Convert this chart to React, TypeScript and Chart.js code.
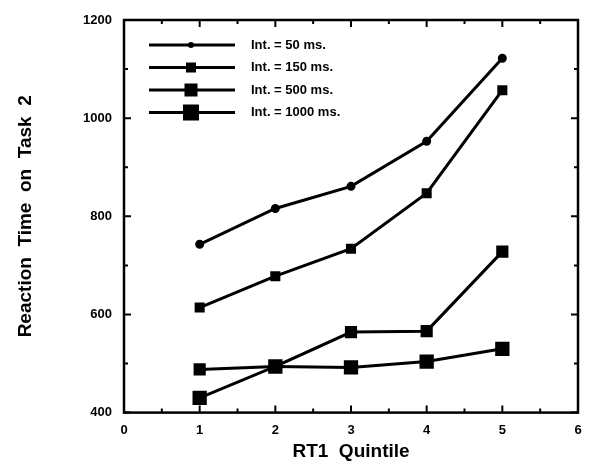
import { useEffect, useRef } from 'react'
import Chart from 'chart.js/auto'

const quintiles = [1, 2, 3, 4, 5]
const int50 = [743, 816, 861, 953, 1122]
const int150 = [614, 678, 734, 847, 1057]
const int500 = [488, 494, 564, 566, 728]
const int1000 = [430, 494, 492, 504, 530]
const seriesLabels = ['Int. = 50 ms.', 'Int. = 150 ms.', 'Int. = 500 ms.', 'Int. = 1000 ms.']
const markerStyles = ['circle', 'rect', 'rect', 'rect']
const markerSizes = [3, 5, 6.5, 8]

const FONT = '"Liberation Sans", Arial, sans-serif'

const frameTicks = {
  id: 'frameTicks',
  afterDraw(chart: Chart) {
    const { ctx, chartArea: a } = chart
    const x = chart.scales.x
    const y = chart.scales.y
    ctx.save()
    ctx.strokeStyle = '#000'
    ctx.lineWidth = 2.5
    ctx.strokeRect(a.left, a.top, a.right - a.left, a.bottom - a.top)
    ctx.lineWidth = 2
    for (let v = 0; v <= 6; v += 0.5) {
      const px = x.getPixelForValue(v)
      const len = v % 1 === 0 ? 7 : 4
      ctx.beginPath()
      ctx.moveTo(px, a.bottom); ctx.lineTo(px, a.bottom - len)
      ctx.moveTo(px, a.top); ctx.lineTo(px, a.top + len)
      ctx.stroke()
    }
    for (let v = 400; v <= 1200; v += 100) {
      const py = y.getPixelForValue(v)
      const len = v % 200 === 0 ? 7 : 4
      ctx.beginPath()
      ctx.moveTo(a.left, py); ctx.lineTo(a.left + len, py)
      ctx.moveTo(a.right, py); ctx.lineTo(a.right - len, py)
      ctx.stroke()
    }
    // legend
    ctx.font = `bold 13px ${FONT}`
    ctx.textBaseline = 'middle'
    seriesLabels.forEach((label, i) => {
      const ly = a.top + 25 + i * 22.5
      const lx = a.left + 25
      ctx.lineWidth = 3
      ctx.beginPath(); ctx.moveTo(lx, ly); ctx.lineTo(lx + 86, ly); ctx.stroke()
      const s = markerSizes[i]
      ctx.fillStyle = '#000'
      if (markerStyles[i] === 'circle') {
        ctx.beginPath(); ctx.arc(lx + 42, ly, s, 0, Math.PI * 2); ctx.fill()
      } else {
        ctx.fillRect(lx + 42 - s, ly - s, 2 * s, 2 * s)
      }
      ctx.fillText(label, lx + 102, ly)
    })
    ctx.restore()
  },
}

export default function App() {
  const canvasRef = useRef<HTMLCanvasElement>(null)

  useEffect(() => {
    if (!canvasRef.current) return
    const all = [int50, int150, int500, int1000]
    const chart = new Chart(canvasRef.current, {
      type: 'scatter',
      data: {
        datasets: all.map((vals, i) => ({
          label: seriesLabels[i],
          data: quintiles.map((q, j) => ({ x: q, y: vals[j] })),
          showLine: true,
          borderColor: '#000',
          backgroundColor: '#000',
          borderWidth: 3,
          pointStyle: markerStyles[i] as any,
          pointRadius: markerSizes[i],
          pointHoverRadius: markerSizes[i],
          tension: 0,
        })),
      },
      options: {
        responsive: false,
        animation: false,
        layout: { padding: { top: 20, right: 6, left: 10, bottom: 9 } },
        plugins: { legend: { display: false }, tooltip: { enabled: false } },
        scales: {
          x: {
            type: 'linear', min: 0, max: 6,
            grid: { display: false },
            border: { display: false },
            ticks: { stepSize: 1, color: '#000', font: { family: FONT, weight: 'bold', size: 13 }, padding: 2 },
            title: { display: true, text: 'RT1  Quintile', color: '#000', font: { family: FONT, weight: 'bold', size: 19 }, padding: { top: 0, bottom: 0 } },
          },
          y: {
            min: 400, max: 1200,
            grid: { display: false },
            border: { display: false },
            afterFit: (s: any) => { s.width = 114 },
            ticks: { stepSize: 200, color: '#000', font: { family: FONT, weight: 'bold', size: 13 }, padding: 4, callback: (v: any) => String(v) },
            title: { display: true, text: 'Reaction  Time  on  Task  2', color: '#000', font: { family: FONT, weight: 'bold', size: 19 }, padding: { bottom: 20 } },
          },
        },
      },
      plugins: [frameTicks],
    })
    return () => { chart.destroy() }
  }, [])

  return (
    <div style={{ position: 'absolute', left: 0, top: 0, background: '#fff' }}>
      <canvas ref={canvasRef} width={589} height={472} style={{ display: 'block' }} />
    </div>
  )
}
